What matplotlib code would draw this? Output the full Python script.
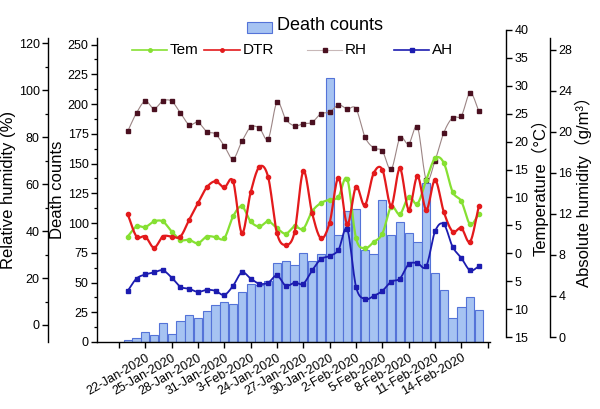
import numpy as np
import matplotlib
matplotlib.use('Agg')
import matplotlib.pyplot as plt
from matplotlib.lines import Line2D
from matplotlib.patches import Rectangle
from matplotlib.ticker import MultipleLocator

plt.rcParams['font.family'] = ['Liberation Sans', 'Noto Sans CJK SC', 'DejaVu Sans']
plt.rcParams['axes.linewidth'] = 1.0
plt.rcParams['xtick.major.width'] = 1.0
plt.rcParams['ytick.major.width'] = 1.0
plt.rcParams['ytick.minor.width'] = 0.9

# daily data, 41 days
days = np.arange(41)
death_counts = [2, 3, 8, 6, 16, 7, 18, 23, 20, 26, 31, 34, 32, 42, 49, 48, 51, 66, 68, 65,
                75, 68, 74, 222, 90, 110, 112, 77, 74, 119, 90, 101, 92, 84, 134, 58, 44, 20,
                29, 38, 27]
tem = [3.0, 4.8, 4.7, 5.7, 5.7, 3.9, 2.4, 2.4, 1.8, 3.0, 2.9, 2.7, 6.6, 8.4, 5.7, 4.8, 5.7,
       4.5, 3.5, 4.8, 4.4, 7.5, 9.0, 9.6, 10.1, 13.3, 2.7, 0.9, 2.0, 3.5, 8.3, 7.0, 10.1, 8.9,
       13.1, 17.0, 16.2, 11.0, 9.3, 5.2, 7.1]
dtr = [7.0, 3.0, 3.0, 1.0, 3.0, 3.0, 3.0, 6.0, 9.0, 11.8, 12.9, 11.8, 12.9, 3.6, 10.9, 15.5,
       13.6, 3.6, 1.5, 3.8, 14.7, 7.2, 2.7, 5.5, 13.5, 5.2, 11.9, 8.6, 14.3, 15.0, 8.5, 15.2,
       7.8, 13.8, 7.8, 13.1, 7.4, 3.9, 4.5, 2.1, 8.5]
rh = [82.5, 90.3, 95.3, 92.1, 95.4, 95.3, 90.3, 85.3, 86.3, 82.3, 81.3, 76.2, 70.7, 78.2, 84.2,
      83.8, 79.3, 94.8, 87.6, 84.8, 85.7, 86.3, 90.0, 90.6, 93.7, 92.0, 92.1, 80.2, 75.4, 74.1,
      66.3, 79.6, 77.1, 84.2, 61.8, 70.0, 81.9, 88.3, 89.1, 98.8, 91.0]
ah = [4.5, 5.7, 6.1, 6.3, 6.5, 5.8, 4.9, 4.7, 4.4, 4.6, 4.5, 4.1, 5.0, 6.3, 5.7, 5.2, 5.3, 6.0,
      5.0, 5.3, 5.2, 6.5, 7.6, 7.9, 8.5, 10.5, 4.9, 3.7, 4.0, 4.5, 5.4, 5.7, 7.1, 7.2, 6.9,
      10.3, 11.0, 8.8, 7.7, 6.5, 6.9]

tick_pos = np.arange(-1, 42, 3)
tick_labels = ['', '22-Jan-2020', '25-Jan-2020', '28-Jan-2020', '31-Jan-2020', '3-Feb-2020',
               '24-Jan-2020', '27-Jan-2020', '30-Jan-2020', '2-Feb-2020', '5-Feb-2020',
               '8-Feb-2020', '11-Feb-2020', '14-Feb-2020', '']
temp_ticks = np.arange(-15, 41, 5)
temp_labels = [str(abs(v)) for v in temp_ticks]

W, H = 600, 409
XLIM = (-3.5, 41.26)


def box(top, bottom):
    return [97 / W, 1 - bottom / H, 393 / W, (bottom - top) / H]


def smooth(x, y, n=12):
    # Catmull-Rom curve through the points
    x = np.asarray(x, float)
    y = np.asarray(y, float)
    yp = np.concatenate([[2 * y[0] - y[1]], y, [2 * y[-1] - y[-2]]])
    t = np.linspace(0, 1, n, endpoint=False)
    xs, ys = [], []
    for i in range(len(x) - 1):
        p0, p1, p2, p3 = yp[i:i + 4]
        ys.append(0.5 * (2 * p1 + (-p0 + p2) * t + (2 * p0 - 5 * p1 + 4 * p2 - p3) * t ** 2
                         + (-p0 + 3 * p1 - 3 * p2 + p3) * t ** 3))
        xs.append(x[i] + (x[i + 1] - x[i]) * t)
    xs.append([x[-1]])
    ys.append([y[-1]])
    return np.concatenate(xs), np.concatenate(ys)


def overlay(top, bottom):
    a = fig.add_axes(box(top, bottom))
    a.patch.set_visible(False)
    a.set_xlim(*XLIM)
    a.set_xticks([])
    for s in ['top', 'bottom', 'left', 'right']:
        a.spines[s].set_visible(False)
    return a


fig = plt.figure(figsize=(6, 4.09), dpi=100)

# main axes: death counts bars
ax = fig.add_axes(box(38, 342))
ax.bar(days, death_counts, width=0.94, color='#a6c3f2', edgecolor='#5473d8', linewidth=0.8)
ax.set_xlim(*XLIM)
ax.set_ylim(0, 255.5)
ax.yaxis.set_major_locator(MultipleLocator(25))
ax.yaxis.set_minor_locator(MultipleLocator(12.5))
ax.spines['top'].set_visible(False)
ax.spines['right'].set_visible(False)
ax.set_xticks(tick_pos)
ax.set_xticklabels(tick_labels, rotation=30, ha='right', rotation_mode='anchor', fontsize=9)
ax.tick_params(axis='y', labelsize=9, length=4, pad=2)
ax.tick_params(axis='y', which='minor', length=2.5)
ax.tick_params(axis='x', length=4, pad=3)
ax.set_ylabel('Death counts', fontsize=12, labelpad=2)

# relative humidity (left, outer)
ax_rh = overlay(38, 342)
ax_rh.spines['left'].set_visible(True)
ax_rh.spines['left'].set_position(('outward', 35.3))
ax_rh.set_ylim(-7.24, 122.2)
ax_rh.yaxis.set_major_locator(MultipleLocator(20))
ax_rh.yaxis.set_minor_locator(MultipleLocator(10))
ax_rh.tick_params(axis='y', labelsize=9, length=4, pad=2)
ax_rh.tick_params(axis='y', which='minor', length=2.5)
ax_rh.set_ylabel('Relative humidity (%)', fontsize=12, labelpad=2)
sx, sy = smooth(days, rh)
ax_rh.plot(sx, sy, color='#9c8585', lw=0.8)
ax_rh.plot(days, rh, ls='none', marker='s', ms=3.0, color='#4a1020')

# temperature (right, inner)
ax_t = overlay(30, 337)
ax_t.spines['right'].set_visible(True)
ax_t.spines['right'].set_position(('outward', 11.5))
ax_t.yaxis.tick_right()
ax_t.yaxis.set_label_position('right')
ax_t.set_ylim(-15, 40)
ax_t.set_yticks(temp_ticks)
ax_t.set_yticklabels(temp_labels)
ax_t.tick_params(axis='y', labelsize=9, length=4, pad=2)
ax_t.set_ylabel('Temperature（°C）', fontsize=12, labelpad=2)
sx, sy = smooth(days, tem)
ax_t.plot(sx, sy, color='#86e032', lw=1.6)
ax_t.plot(days, tem, ls='none', marker='o', ms=3.0, color='#86e032')
sx, sy = smooth(days, dtr)
ax_t.plot(sx, sy, color='#e31a1c', lw=1.6)
ax_t.plot(days, dtr, ls='none', marker='o', ms=3.0, color='#e31a1c')

# absolute humidity (right, outer)
ax_ah = overlay(38, 337)
ax_ah.spines['right'].set_visible(True)
ax_ah.spines['right'].set_position(('outward', 43.2))
ax_ah.yaxis.tick_right()
ax_ah.yaxis.set_label_position('right')
ax_ah.set_ylim(0, 29.17)
ax_ah.yaxis.set_major_locator(MultipleLocator(4))
ax_ah.tick_params(axis='y', labelsize=9, length=4, pad=2)
ax_ah.set_ylabel('Absolute humidity（g/m³）', fontsize=12, labelpad=2)
sx, sy = smooth(days, ah)
ax_ah.plot(sx, sy, color='#1c1cb0', lw=1.3)
ax_ah.plot(days, ah, ls='none', marker='s', ms=3.0, color='#1c1cb0')

# legend
fig.add_artist(Rectangle((247 / W, 1 - 33 / H), 25 / W, 11 / H, transform=fig.transFigure,
                         facecolor='#a6c3f2', edgecolor='#5473d8', linewidth=0.8))
fig.text(277 / W, 1 - 26 / H, 'Death counts', va='center', fontsize=13)


def legend_line(x0, x1, label, color, lw, marker, mcolor):
    y = 1 - 50 / H
    fig.add_artist(Line2D([x0 / W, x1 / W], [y, y], transform=fig.transFigure, color=color, lw=lw))
    fig.add_artist(Line2D([(x0 + x1) / 2 / W], [y], transform=fig.transFigure, ls='none',
                          marker=marker, ms=2.5, color=mcolor))
    fig.text((x1 + 3) / W, y, label, va='center', fontsize=11)


legend_line(132, 167, 'Tem', '#86e032', 1.2, 'o', '#86e032')
legend_line(204, 240, 'DTR', '#e31a1c', 1.2, 'o', '#e31a1c')
legend_line(307, 342, 'RH', '#c8b8b8', 0.8, 's', '#4a1020')
legend_line(394, 429, 'AH', '#1c1cb0', 1.2, 's', '#1c1cb0')

fig.savefig('out.png', dpi=100)
